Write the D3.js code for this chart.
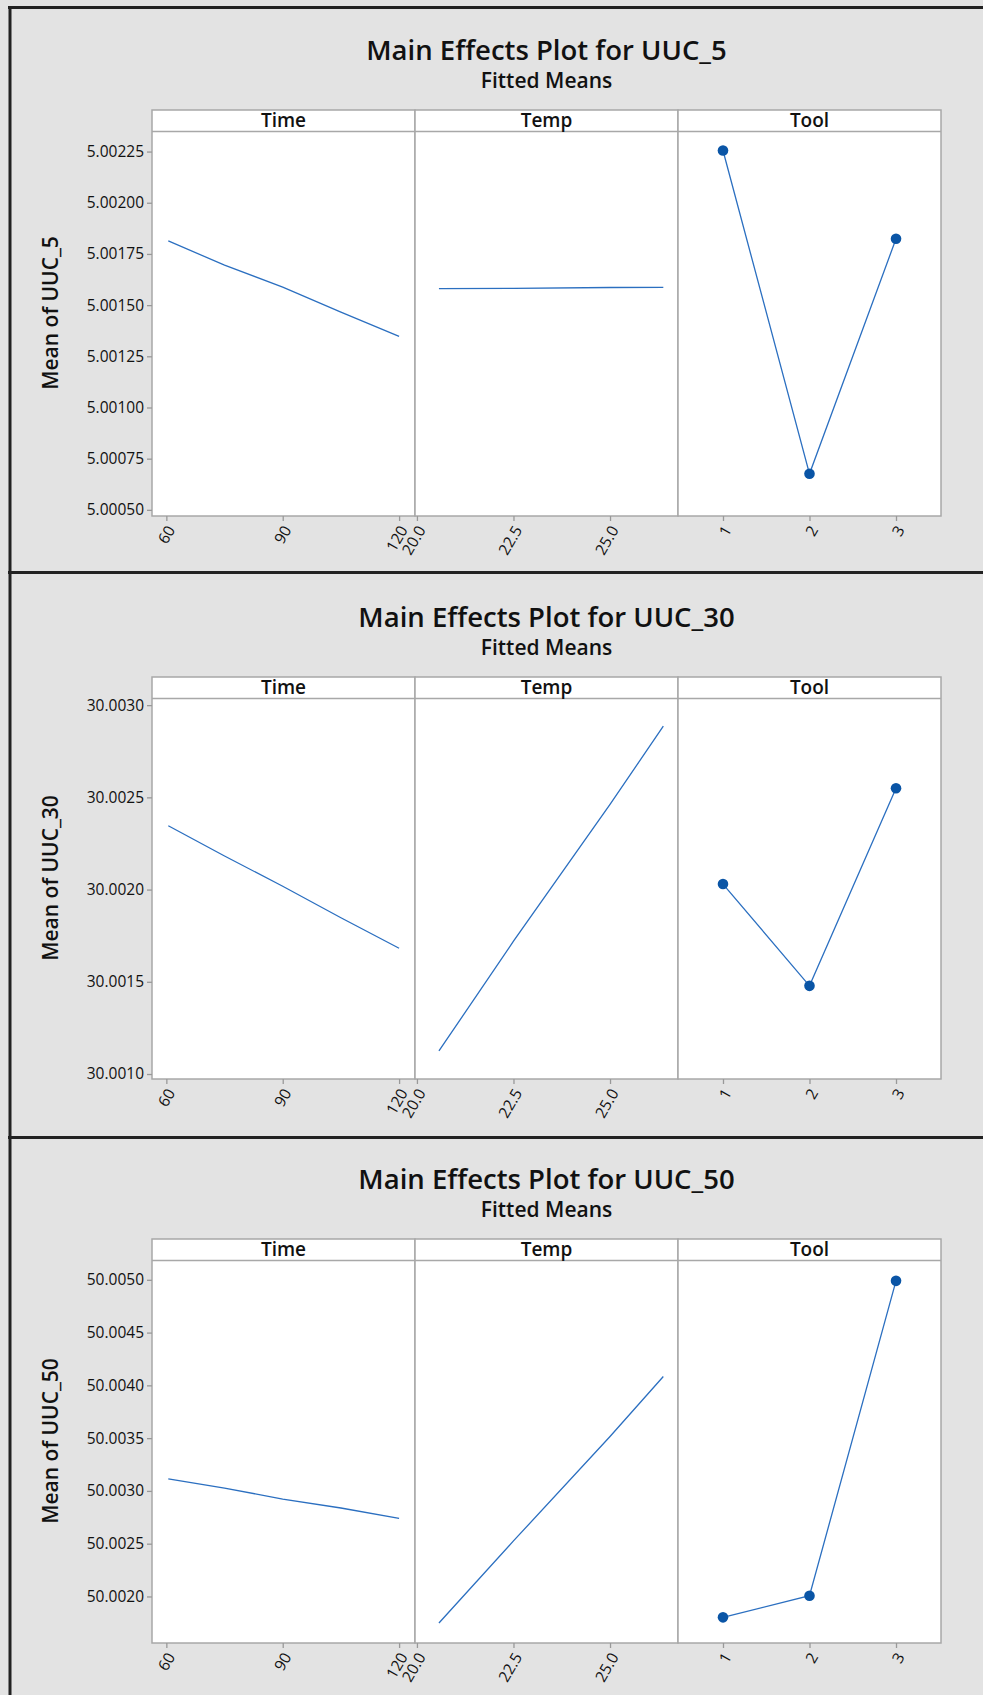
<!DOCTYPE html>
<html lang="en">
<head>
    <meta charset="UTF-8">
    <title>Main Effects Plots</title>
    <script src="https://d3js.org/d3.v7.min.js"></script>
    <style>
        body { margin: 0; background: #e3e3e3; }
        svg { display: block; }
        text { font-family: "Open Sans", "Noto Sans", sans-serif; fill: #111; }
        .title { font-size: 27.5px; font-weight: 600; }
        .subtitle { font-size: 21px; font-weight: 600; }
        .ylab { font-size: 21px; font-weight: 600; }
        .head { font-size: 19px; font-weight: 600; }
        .tick text { font-size: 15.5px; font-weight: 500; }
        .frame { fill: none; stroke: #a8a8a8; stroke-width: 1.5px; }
        .fit { fill: none; stroke: #2b6fc0; stroke-width: 1.3px; }
        .dot { fill: #0a55a6; }
    </style>
</head>
<body>
<svg width="983" height="1695"></svg>
<script>
    // responses and factors
    const responses = ["UUC_5", "UUC_30", "UUC_50"];
    const factors = ["Time", "Temp", "Tool"];

    // fitted means
    const timeX = [60.5, 75, 90, 105, 120];
    const time5 = [5.001814, 5.001695, 5.001588, 5.001466, 5.001347];
    const time30 = [30.002346, 30.002182, 30.002018, 30.001847, 30.001682];
    const time50 = [50.003113, 50.003027, 50.002923, 50.002838, 50.00274];

    const tempX = [20.57, 22.5, 25.0, 26.38];
    const temp5 = [5.001581, 5.001582, 5.001586, 5.001587];
    const temp30 = [30.001125, 30.00172, 30.002462, 30.002886];
    const temp50 = [50.001749, 50.002526, 50.003515, 50.004084];

    const toolX = [1, 2, 3];
    const tool5 = [5.002255, 5.000676, 5.001824];
    const tool30 = [30.00203, 30.001478, 30.002549];
    const tool50 = [50.001802, 50.002007, 50.00499];

    // axes
    const timeTicks = [60, 90, 120];
    const tempTicks = [20.0, 22.5, 25.0];
    const toolTicks = [1, 2, 3];
    const timeDomain = [56.3, 124.1];
    const tempDomain = [19.95, 26.76];
    const toolDomain = [0.48, 3.52];

    const yTicks5 = [5.0005, 5.00075, 5.001, 5.00125, 5.0015, 5.00175, 5.002, 5.00225];
    const yTicks30 = [30.001, 30.0015, 30.002, 30.0025, 30.003];
    const yTicks50 = [50.002, 50.0025, 50.003, 50.0035, 50.004, 50.0045, 50.005];
    const yDomain5 = [5.00047, 5.002348];
    const yDomain30 = [30.000973, 30.003036];
    const yDomain50 = [50.001559, 50.005183];

    const svg = d3.select("svg");

    // layout
    const headerTops = [110, 677, 1239];
    const plotBottoms = [516, 1079, 1643];
    const headH = 21.5;
    const left = 152, panelW = 263;
    const separators = [572.5, 1137.5];

    svg.append("rect").attr("width", 983).attr("height", 1695).attr("fill", "#e3e3e3");

    const charts = [
        { name: responses[0], time: time5, temp: temp5, tool: tool5, ticks: yTicks5, dom: yDomain5, dec: 5 },
        { name: responses[1], time: time30, temp: temp30, tool: tool30, ticks: yTicks30, dom: yDomain30, dec: 4 },
        { name: responses[2], time: time50, temp: temp50, tool: tool50, ticks: yTicks50, dom: yDomain50, dec: 4 }
    ];

    charts.forEach((c, i) => {
        const top = headerTops[i], bottom = plotBottoms[i];
        const g = svg.append("g");
        const cx = left + panelW * 1.5;

        g.append("text").attr("class", "title").attr("x", cx).attr("y", top - 50)
            .attr("text-anchor", "middle").text("Main Effects Plot for " + c.name);
        g.append("text").attr("class", "subtitle").attr("x", cx).attr("y", top - 22)
            .attr("text-anchor", "middle").text("Fitted Means");

        g.append("text").attr("class", "ylab")
            .attr("transform", `translate(58,${(top + bottom) / 2}) rotate(-90)`)
            .attr("text-anchor", "middle").text("Mean of " + c.name);

        const y = d3.scaleLinear().domain(c.dom).range([bottom, top + headH]);

        const panels = [
            { xs: timeX, ys: c.time, dom: timeDomain, ticks: timeTicks, fmt: d3.format("d"), pts: false },
            { xs: tempX, ys: c.temp, dom: tempDomain, ticks: tempTicks, fmt: d3.format(".1f"), pts: false },
            { xs: toolX, ys: c.tool, dom: toolDomain, ticks: toolTicks, fmt: d3.format("d"), pts: true }
        ];

        panels.forEach((p, j) => {
            const x0 = left + j * panelW;
            const x = d3.scaleLinear().domain(p.dom).range([x0, x0 + panelW]);

            g.append("rect").attr("x", x0).attr("y", top).attr("width", panelW)
                .attr("height", bottom - top).attr("fill", "#fff");

            const line = d3.line().x(d => x(d[0])).y(d => y(d[1]));
            const pts = p.xs.map((v, k) => [v, p.ys[k]]);
            g.append("path").datum(pts).attr("class", "fit").attr("d", line);
            if (p.pts) {
                g.selectAll(null).data(pts).enter().append("circle")
                    .attr("class", "dot").attr("cx", d => x(d[0])).attr("cy", d => y(d[1])).attr("r", 5.3);
            }

            g.append("rect").attr("class", "frame").attr("x", x0).attr("y", top)
                .attr("width", panelW).attr("height", bottom - top);
            g.append("line").attr("class", "frame").attr("x1", x0).attr("x2", x0 + panelW)
                .attr("y1", top + headH).attr("y2", top + headH);
            g.append("text").attr("class", "head").attr("x", x0 + panelW / 2).attr("y", top + 17)
                .attr("text-anchor", "middle").text(factors[j]);

            const ax = g.append("g").attr("transform", `translate(0,${bottom})`)
                .call(d3.axisBottom(x).tickValues(p.ticks).tickFormat(p.fmt).tickSize(5).tickPadding(4));
            ax.select(".domain").remove();
            ax.selectAll(".tick line").attr("stroke", "#999").attr("stroke-width", 1.3);
            ax.selectAll(".tick text")
                .attr("text-anchor", "end")
                .attr("transform", "translate(4,11) rotate(-60)")
                .attr("x", 0).attr("y", 0).attr("dy", "0.35em");
        });

        const ay = g.append("g").attr("transform", `translate(${left},0)`)
            .call(d3.axisLeft(y).tickValues(c.ticks).tickFormat(d3.format("." + c.dec + "f")).tickSize(5).tickPadding(3));
        ay.select(".domain").remove();
        ay.selectAll(".tick line").attr("stroke", "#999").attr("stroke-width", 1.3);
    });

    // outer frame of the stacked images
    svg.append("line").attr("x1", 10).attr("x2", 10).attr("y1", 6).attr("y2", 1695)
        .attr("stroke", "#222").attr("stroke-width", 3);
    svg.append("line").attr("x1", 8).attr("x2", 983).attr("y1", 7.5).attr("y2", 7.5)
        .attr("stroke", "#222").attr("stroke-width", 3);
    separators.forEach(s => {
        svg.append("line").attr("x1", 8).attr("x2", 983).attr("y1", s).attr("y2", s)
            .attr("stroke", "#222").attr("stroke-width", 3);
    });
</script>
</body>
</html>
